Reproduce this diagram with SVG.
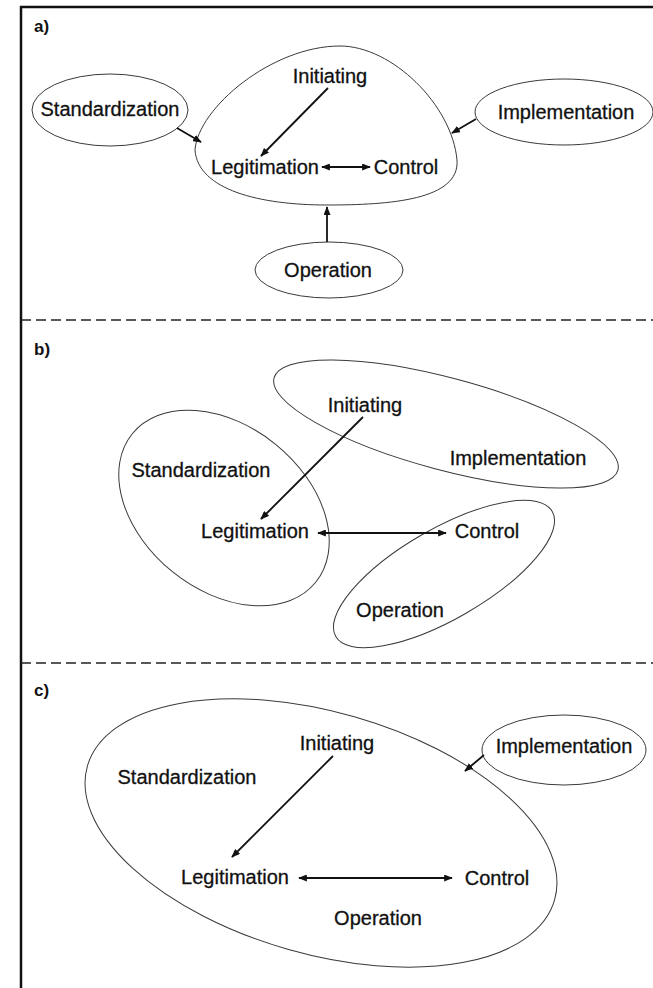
<svg xmlns="http://www.w3.org/2000/svg" width="653" height="988" viewBox="0 0 653 988">
<style>
  .lbl { font-family: "Liberation Sans", Arial, Helvetica, sans-serif; font-size: 20px; fill: #111; stroke: #111; stroke-width: 0.3; text-anchor: middle; }
  .pl { font-family: "Liberation Sans", Arial, Helvetica, sans-serif; font-size: 17px; fill: #111; font-weight: bold; }
  .shape { fill: none; stroke: #3a3a3a; stroke-width: 1; }
  .arr { fill: none; stroke: #111; stroke-width: 1.8; marker-end: url(#ah); }
  .darr { fill: none; stroke: #111; stroke-width: 1.8; marker-end: url(#ah); marker-start: url(#ah); }
  .frame { fill: none; stroke: #111; stroke-width: 2.5; }
  .dash { fill: none; stroke: #222; stroke-width: 1.5; stroke-dasharray: 10 5; }
</style>
<defs>
  <marker id="ah" viewBox="0 0 10 8" refX="9" refY="4" markerWidth="9" markerHeight="7" markerUnits="userSpaceOnUse" orient="auto-start-reverse">
    <path d="M0,0 L10,4 L0,8 z" fill="#111"/>
  </marker>
</defs>
<rect width="653" height="988" fill="#fff"/>
<g id="frame">
  <path class="frame" d="M21,988 L21,7 L653,7"/>
  <line class="dash" x1="21" y1="320" x2="653" y2="320"/>
  <line class="dash" x1="21" y1="663" x2="653" y2="663"/>
  <text class="pl" x="34" y="32">a)</text>
  <text class="pl" x="34" y="355">b)</text>
  <text class="pl" x="34" y="696">c)</text>
</g>
<!-- Panel a -->
<g id="a-standardization">
  <ellipse class="shape" cx="110" cy="110" rx="78" ry="36"/>
  <text class="lbl" x="110" y="116">Standardization</text>
</g>
<g id="a-core">
  <path class="shape" d="M340,46 C392,46 452,105 457,160 C460,200 390,205 327,205 C260,205 198,190 195,150 C198,108 272,46 340,46 Z"/>
  <text class="lbl" x="330" y="83">Initiating</text>
  <text class="lbl" x="265" y="174">Legitimation</text>
  <text class="lbl" x="406" y="174">Control</text>
</g>
<g id="a-implementation">
  <ellipse class="shape" cx="564" cy="112" rx="89" ry="33"/>
  <text class="lbl" x="566" y="119">Implementation</text>
</g>
<g id="a-operation">
  <ellipse class="shape" cx="329" cy="270" rx="74" ry="28"/>
  <text class="lbl" x="328" y="277">Operation</text>
</g>
<!-- Panel b -->
<g id="b-implementation">
  <ellipse class="shape" cx="446" cy="424" rx="178" ry="46" transform="rotate(15 446 424)"/>
  <text class="lbl" x="365" y="412">Initiating</text>
  <text class="lbl" x="518" y="465">Implementation</text>
</g>
<g id="b-standardization">
  <ellipse class="shape" cx="224" cy="508" rx="118" ry="82" transform="rotate(39 224 508)"/>
  <text class="lbl" x="201" y="477">Standardization</text>
  <text class="lbl" x="255" y="538">Legitimation</text>
</g>
<g id="b-operation">
  <ellipse class="shape" cx="444" cy="574" rx="125" ry="45" transform="rotate(-30 444 574)"/>
  <text class="lbl" x="487" y="538">Control</text>
  <text class="lbl" x="400" y="617">Operation</text>
</g>
<!-- Panel c -->
<g id="c-main">
  <ellipse class="shape" cx="321" cy="833" rx="243" ry="121" transform="rotate(16 321 833)"/>
  <text class="lbl" x="337" y="750">Initiating</text>
  <text class="lbl" x="187" y="784">Standardization</text>
  <text class="lbl" x="235" y="884">Legitimation</text>
  <text class="lbl" x="497" y="885">Control</text>
  <text class="lbl" x="378" y="925">Operation</text>
</g>
<g id="c-implementation">
  <ellipse class="shape" cx="564" cy="750" rx="82" ry="35"/>
  <text class="lbl" x="564" y="753">Implementation</text>
</g>
<g id="connectors">
  <line class="arr" x1="177" y1="128" x2="201" y2="142"/>
  <line class="arr" x1="476" y1="119" x2="452" y2="133"/>
  <line class="arr" x1="327" y1="242" x2="327" y2="207"/>
  <line class="arr" x1="328" y1="88" x2="261" y2="156"/>
  <line class="darr" x1="322" y1="167" x2="370" y2="167"/>
  <line class="arr" x1="363" y1="417" x2="261" y2="519"/>
  <line class="darr" x1="318" y1="533" x2="446" y2="533"/>
  <line class="arr" x1="333" y1="756" x2="232" y2="857"/>
  <line class="darr" x1="299" y1="878" x2="452" y2="878"/>
  <line class="arr" x1="484" y1="755" x2="465" y2="771"/>
</g>
</svg>
